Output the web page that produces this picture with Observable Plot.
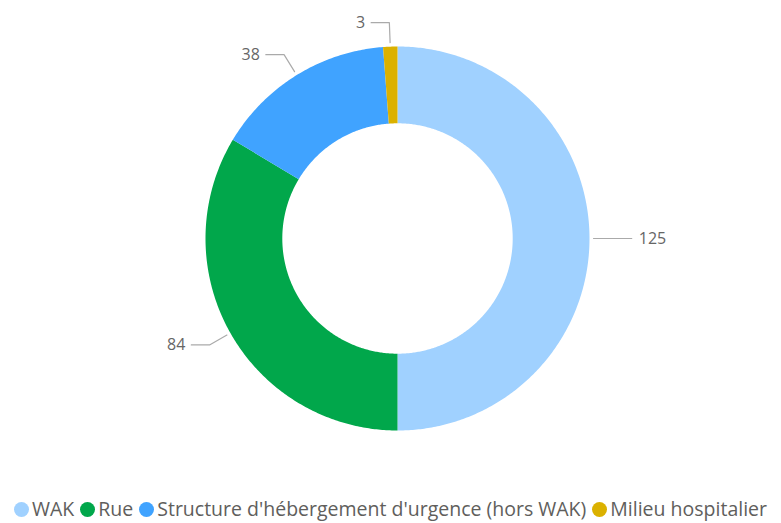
<!DOCTYPE html>
<html>
<head>
<meta charset="utf-8">
<script src="https://cdn.jsdelivr.net/npm/d3@7"></script>
<script src="https://cdn.jsdelivr.net/npm/@observablehq/plot@0.6"></script>
<style>
  html, body { margin: 0; padding: 0; background: #fff; }
  #chart { width: 781px; height: 523px; position: relative; overflow: hidden; }
  .legend { position: absolute; left: 0; top: 496px; width: 781px; display: flex; justify-content: center; white-space: nowrap;
    font-family: "Open Sans", sans-serif; font-size: 19.5px; color: #605E5C; line-height: 26px; }
  .legend .item { display: inline-flex; align-items: center; margin: 0 3px; }
  .legend .sw { width: 15px; height: 15px; border-radius: 50%; display: inline-block; margin-right: 3px; }
</style>
</head>
<body>
<div id="chart"></div>
<script>
const categories = ["WAK", "Rue", "Structure d'hébergement d'urgence (hors WAK)", "Milieu hospitalier"];
const values = [125, 84, 38, 3];
const colors = ["#A0D1FF", "#01A74B", "#40A3FF", "#DBB100"];

const W = 781, H = 490;
const cx = 397, cy = 238, R = 192; // layout
const innerFrac = 0.6;
const total = d3.sum(values);

// build slice polygons (unit radius coordinates)
const slices = [];
const leaders = [];
const labels = [];
let acc = 0;
categories.forEach((c, i) => {
  const a0 = acc / total * 2 * Math.PI;
  acc += values[i];
  const a1 = acc / total * 2 * Math.PI;
  const n = Math.max(2, Math.ceil((a1 - a0) / 0.01));
  for (let k = 0; k <= n; k++) {
    const a = a0 + (a1 - a0) * k / n;
    slices.push({cat: c, x: Math.sin(a), y: Math.cos(a)});
  }
  for (let k = n; k >= 0; k--) {
    const a = a0 + (a1 - a0) * k / n;
    slices.push({cat: c, x: innerFrac * Math.sin(a), y: innerFrac * Math.cos(a)});
  }
  const am = (a0 + a1) / 2;
  const sx = Math.sin(am), sy = Math.cos(am);
  const right = sx >= -0.001;
  const r1 = 1.021, r2 = 1.125, h = 0.095;
  const ex = r2 * sx, ey = r2 * sy;
  const hx = ex + (right ? h : -h);
  leaders.push({cat: c, x: r1 * sx, y: r1 * sy}, {cat: c, x: ex, y: ey}, {cat: c, x: hx, y: ey});
  labels.push({cat: c, value: values[i], x: hx, y: ey, right});
});

const xDom = [-cx / R, (W - cx) / R];
const yDom = [(cy - H) / R, cy / R];

const plot = Plot.plot({
  width: W, height: H,
  margin: 0,
  x: {domain: xDom, axis: null},
  y: {domain: yDom, axis: null},
  color: {domain: categories, range: colors},
  style: {fontFamily: "'Open Sans', sans-serif", background: "white"},
  marks: [
    Plot.line(slices, {x: "x", y: "y", z: "cat", fill: "cat", stroke: "none"}),
    Plot.line(leaders, {x: "x", y: "y", z: "cat", stroke: "#AAAAAA", strokeWidth: 1.2}),
    Plot.text(labels.filter(d => d.right), {x: "x", y: "y", text: d => String(d.value), textAnchor: "start", dx: 7, fill: "#666", fontSize: 16}),
    Plot.text(labels.filter(d => !d.right), {x: "x", y: "y", text: d => String(d.value), textAnchor: "end", dx: -6, fill: "#666", fontSize: 16})
  ]
});

const chart = document.getElementById("chart");
chart.appendChild(plot);

const legend = document.createElement("div");
legend.className = "legend";
categories.forEach((c, i) => {
  const it = document.createElement("span");
  it.className = "item";
  const sw = document.createElement("span");
  sw.className = "sw";
  sw.style.background = colors[i];
  it.appendChild(sw);
  it.appendChild(document.createTextNode(c));
  legend.appendChild(it);
});
chart.appendChild(legend);
</script>
</body>
</html>
